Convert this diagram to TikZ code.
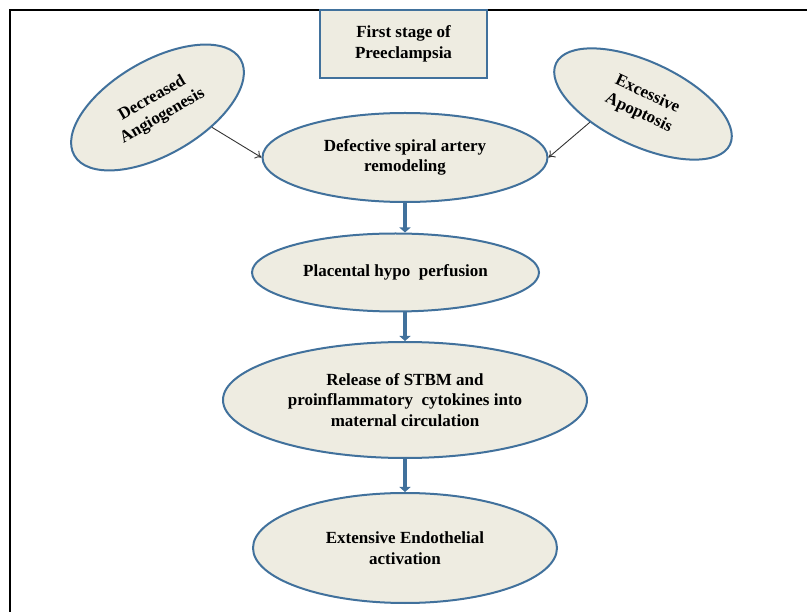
\documentclass[tikz,border=0pt]{standalone}
\usepackage{fontspec}
\setmainfont{Liberation Serif}
\usetikzlibrary{arrows.meta}
\usetikzlibrary{shapes.geometric}

\definecolor{causeFill}{HTML}{EEECE1}
\definecolor{causeLine}{HTML}{41719C}

\begin{document}
\begin{tikzpicture}[x=1pt, y=-1pt, font=\bfseries\fontsize{17}{20.5}\selectfont]
	\tikzstyle{stageStyle}=[shape = rectangle, draw = causeLine, line width = 2pt, fill = causeFill, minimum width = 167pt, minimum height = 68pt, inner sep = 0pt, align = center]
	\tikzstyle{ovalStyle}=[shape = ellipse, draw = causeLine, line width = 2pt, fill = causeFill, inner sep = 0pt, align = center]
	\tikzstyle{flowArrow}=[draw = causeLine, line width = 4.5pt, -{Triangle[width=11pt, length=5pt]}]
	\tikzstyle{causeArrow}=[draw = black!80, line width = 0.9pt, -{To[width=9pt, length=6pt]}]
	\useasboundingbox (0,0) rectangle (807,612);
	% frame
	\draw[line width = 2pt] (10,612) -- (10,10) -- (807,10);
	\node[stageStyle] (stage) at (403.5,44) {First stage of\\Preeclampsia};
	\node[ovalStyle, minimum width = 192pt, minimum height = 94pt, rotate = 30] (dec) at (157.5,107.5) {Decreased\\Angiogenesis};
	\node[ovalStyle, minimum width = 192pt, minimum height = 84pt, rotate = -25] (apo) at (643,104) {Excessive\\Apoptosis};
	\node[ovalStyle, minimum width = 285pt, minimum height = 89pt] (def) at (405,157.5) {Defective spiral artery\\remodeling};
	\node[ovalStyle, minimum width = 287pt, minimum height = 78pt] (hypo) at (395.5,272.5) {Placental hypo \ perfusion};
	\node[ovalStyle, minimum width = 364pt, minimum height = 116pt] (rel) at (405,400) {Release of STBM and\\proinflammatory \ cytokines into\\maternal circulation};
	\node[ovalStyle, minimum width = 304pt, minimum height = 110pt] (endo) at (405,548) {Extensive Endothelial\\activation};
	% connectors
	\draw[causeArrow] (dec.-50) -- (def.west);
	\draw[causeArrow] (apo.-136) -- (def.east);
	\draw[flowArrow] (def.south) -- (def.south |- hypo.north);
	\draw[flowArrow] (def.south |- hypo.south) -- (rel.north);
	\draw[flowArrow] (rel.south) -- (endo.north);
\end{tikzpicture}
\end{document}
